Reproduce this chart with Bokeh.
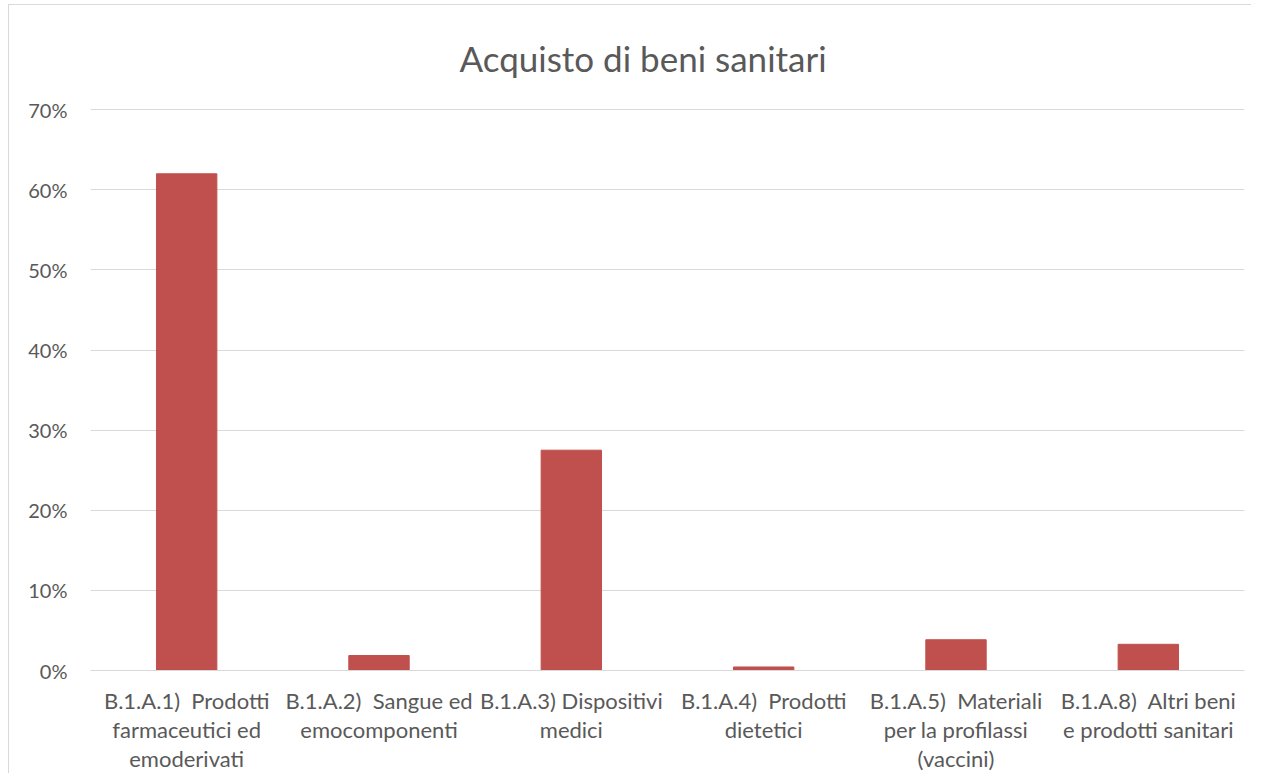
from bokeh.plotting import figure
from bokeh.models import FixedTicker, NumeralTickFormatter
from bokeh.embed import file_html
from bokeh.resources import INLINE

categories = [
    "B.1.A.1)\u00a0\u00a0Prodotti\nfarmaceutici ed\nemoderivati",
    "B.1.A.2)\u00a0\u00a0Sangue ed\nemocomponenti",
    "B.1.A.3) Dispositivi\nmedici",
    "B.1.A.4)\u00a0\u00a0Prodotti\ndietetici",
    "B.1.A.5)\u00a0\u00a0Materiali\nper la profilassi\n(vaccini)",
    "B.1.A.8)\u00a0\u00a0Altri beni\ne prodotti sanitari",
]
values = [0.620, 0.0187, 0.275, 0.0044, 0.0384, 0.0327]
y_ticks = [0.0, 0.1, 0.2, 0.3, 0.4, 0.5, 0.6, 0.7]

FONT = "Lato"
GRAY = "#595959"
GRID = "#d9d9d9"

p = figure(
    x_range=categories, y_range=(0, 0.7015),
    width=1243, height=769,
    output_backend="svg", toolbar_location=None,
    title="Acquisto di beni sanitari",
    min_border_left=81, min_border_right=8, min_border_top=103, min_border_bottom=104,
)
p.styles = {
    "margin-left": "8px", "margin-top": "4px",
    "border-left": "1px solid #d9d9d9", "border-top": "1px solid #d9d9d9",
}

p.vbar(x=categories, top=values, width=0.314, fill_color="#C0504D", line_color="#C0504D")

p.title.align = "left"
p.title.offset = 369
p.title.text_font = FONT
p.title.text_font_size = "35px"
p.title.text_font_style = "normal"
p.title.text_color = GRAY
p.title.standoff = 59

p.outline_line_color = None
p.xgrid.grid_line_color = None
p.ygrid.grid_line_color = GRID
p.ygrid.ticker = FixedTicker(ticks=y_ticks)

p.yaxis.ticker = FixedTicker(ticks=y_ticks)
p.yaxis.formatter = NumeralTickFormatter(format="0%")
p.yaxis.axis_line_color = None
p.yaxis.major_tick_line_color = None
p.yaxis.minor_tick_line_color = None
p.yaxis.major_label_text_font = FONT
p.yaxis.major_label_text_font_size = "20px"
p.yaxis.major_label_text_color = GRAY
p.yaxis.major_label_standoff = 17

p.xaxis.axis_line_color = GRID
p.xaxis.major_tick_line_color = None
p.xaxis.minor_tick_line_color = None
p.xaxis.major_label_text_font = FONT
p.xaxis.major_label_text_font_size = "22px"
p.xaxis.major_label_text_color = GRAY
p.xaxis.major_label_standoff = 10
p.xaxis.major_label_text_line_height = 1.08

open("out.html", "w").write(file_html(p, INLINE))
